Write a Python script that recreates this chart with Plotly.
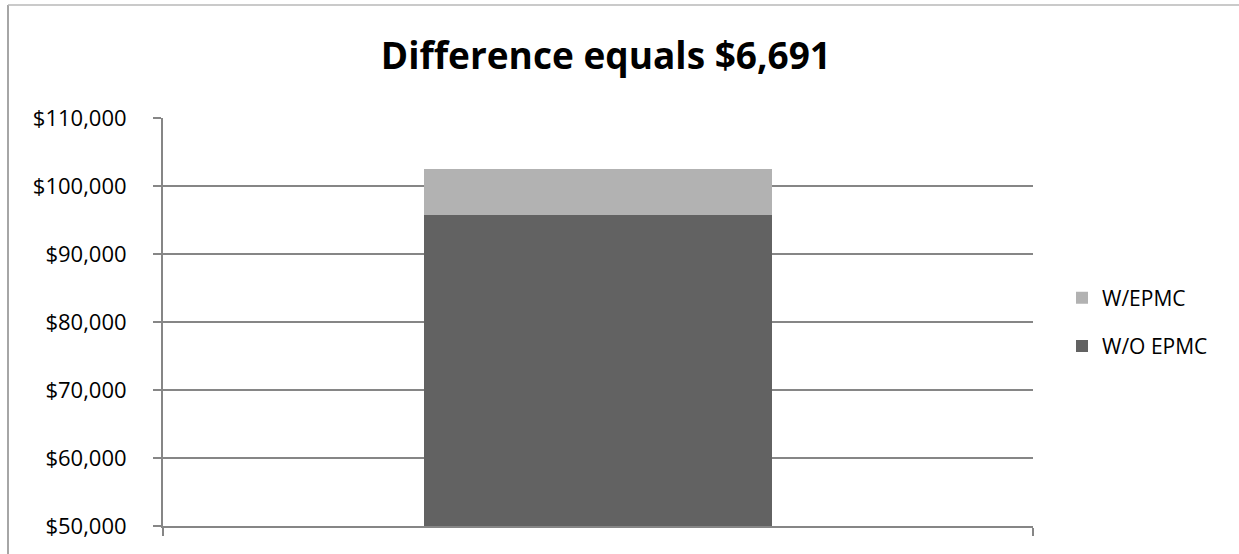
import plotly.graph_objects as go

categories = ["Cost"]
series_names = ["W/O EPMC", "W/EPMC"]
wo_epmc = [95750]
w_epmc = [6691]
colors = ["#626262", "#B2B2B2"]
legend_ranks = [2, 1]
title_text = "Difference equals $6,691"

L, R, T, B = 163, 206, 118, 28
W, H = 1239, 554
pw = W - L - R
ph = H - T - B

fig = go.Figure()
for name, vals, col, rank in zip(series_names, [wo_epmc, w_epmc], colors, legend_ranks):
    fig.add_trace(go.Bar(x=categories, y=vals, name=name, marker=dict(color=col, line=dict(width=0)),
                         legendgroup=name, legendrank=rank))

gray = "#868686"
border = "#A6A6A6"
fig.update_layout(
    width=W, height=H,
    margin=dict(l=L, r=R, t=T, b=B),
    paper_bgcolor="white", plot_bgcolor="white",
    barmode="stack", bargap=0.6,
    font=dict(family="Open Sans", size=22, color="black"),
    title=dict(text="<b>" + title_text + "</b>", x=0.489, xanchor="center", y=1 - 56 / H, yanchor="middle",
               font=dict(family="Open Sans", size=37, color="black")),
    legend=dict(x=(1062 - L) / pw, y=(H - B - 322) / ph, xanchor="left", yanchor="middle",
                traceorder="grouped", tracegroupgap=18, font=dict(size=21), itemwidth=30),
    xaxis=dict(showticklabels=False, ticks="outside", tickson="boundaries", ticklen=8, tickwidth=2,
               tickcolor=gray, showline=True, linecolor=gray, linewidth=2, showgrid=False),
    yaxis=dict(range=[50000, 110000], dtick=10000, tickprefix="$", tickformat=",d",
               ticks="outside", ticklen=8, tickwidth=2, tickcolor=gray,
               showline=True, linecolor=gray, linewidth=2,
               showgrid=True, gridcolor=gray, gridwidth=2, zeroline=False,
               ticklabelstandoff=22, tickfont=dict(size=22)),
)

# outer chart-area border (left and top edges visible)
x0 = (8 - L) / pw
ytop = (H - B - 5) / ph
ybot = (H - B - H - 5) / ph
fig.add_shape(type="line", xref="paper", yref="paper", x0=x0, x1=x0, y0=ybot, y1=ytop,
              line=dict(color=border, width=2))
fig.add_shape(type="line", xref="paper", yref="paper", x0=x0, x1=(W - L) / pw, y0=ytop, y1=ytop,
              line=dict(color="#B8B8B8", width=1.5))

fig.write_html("out.html")
